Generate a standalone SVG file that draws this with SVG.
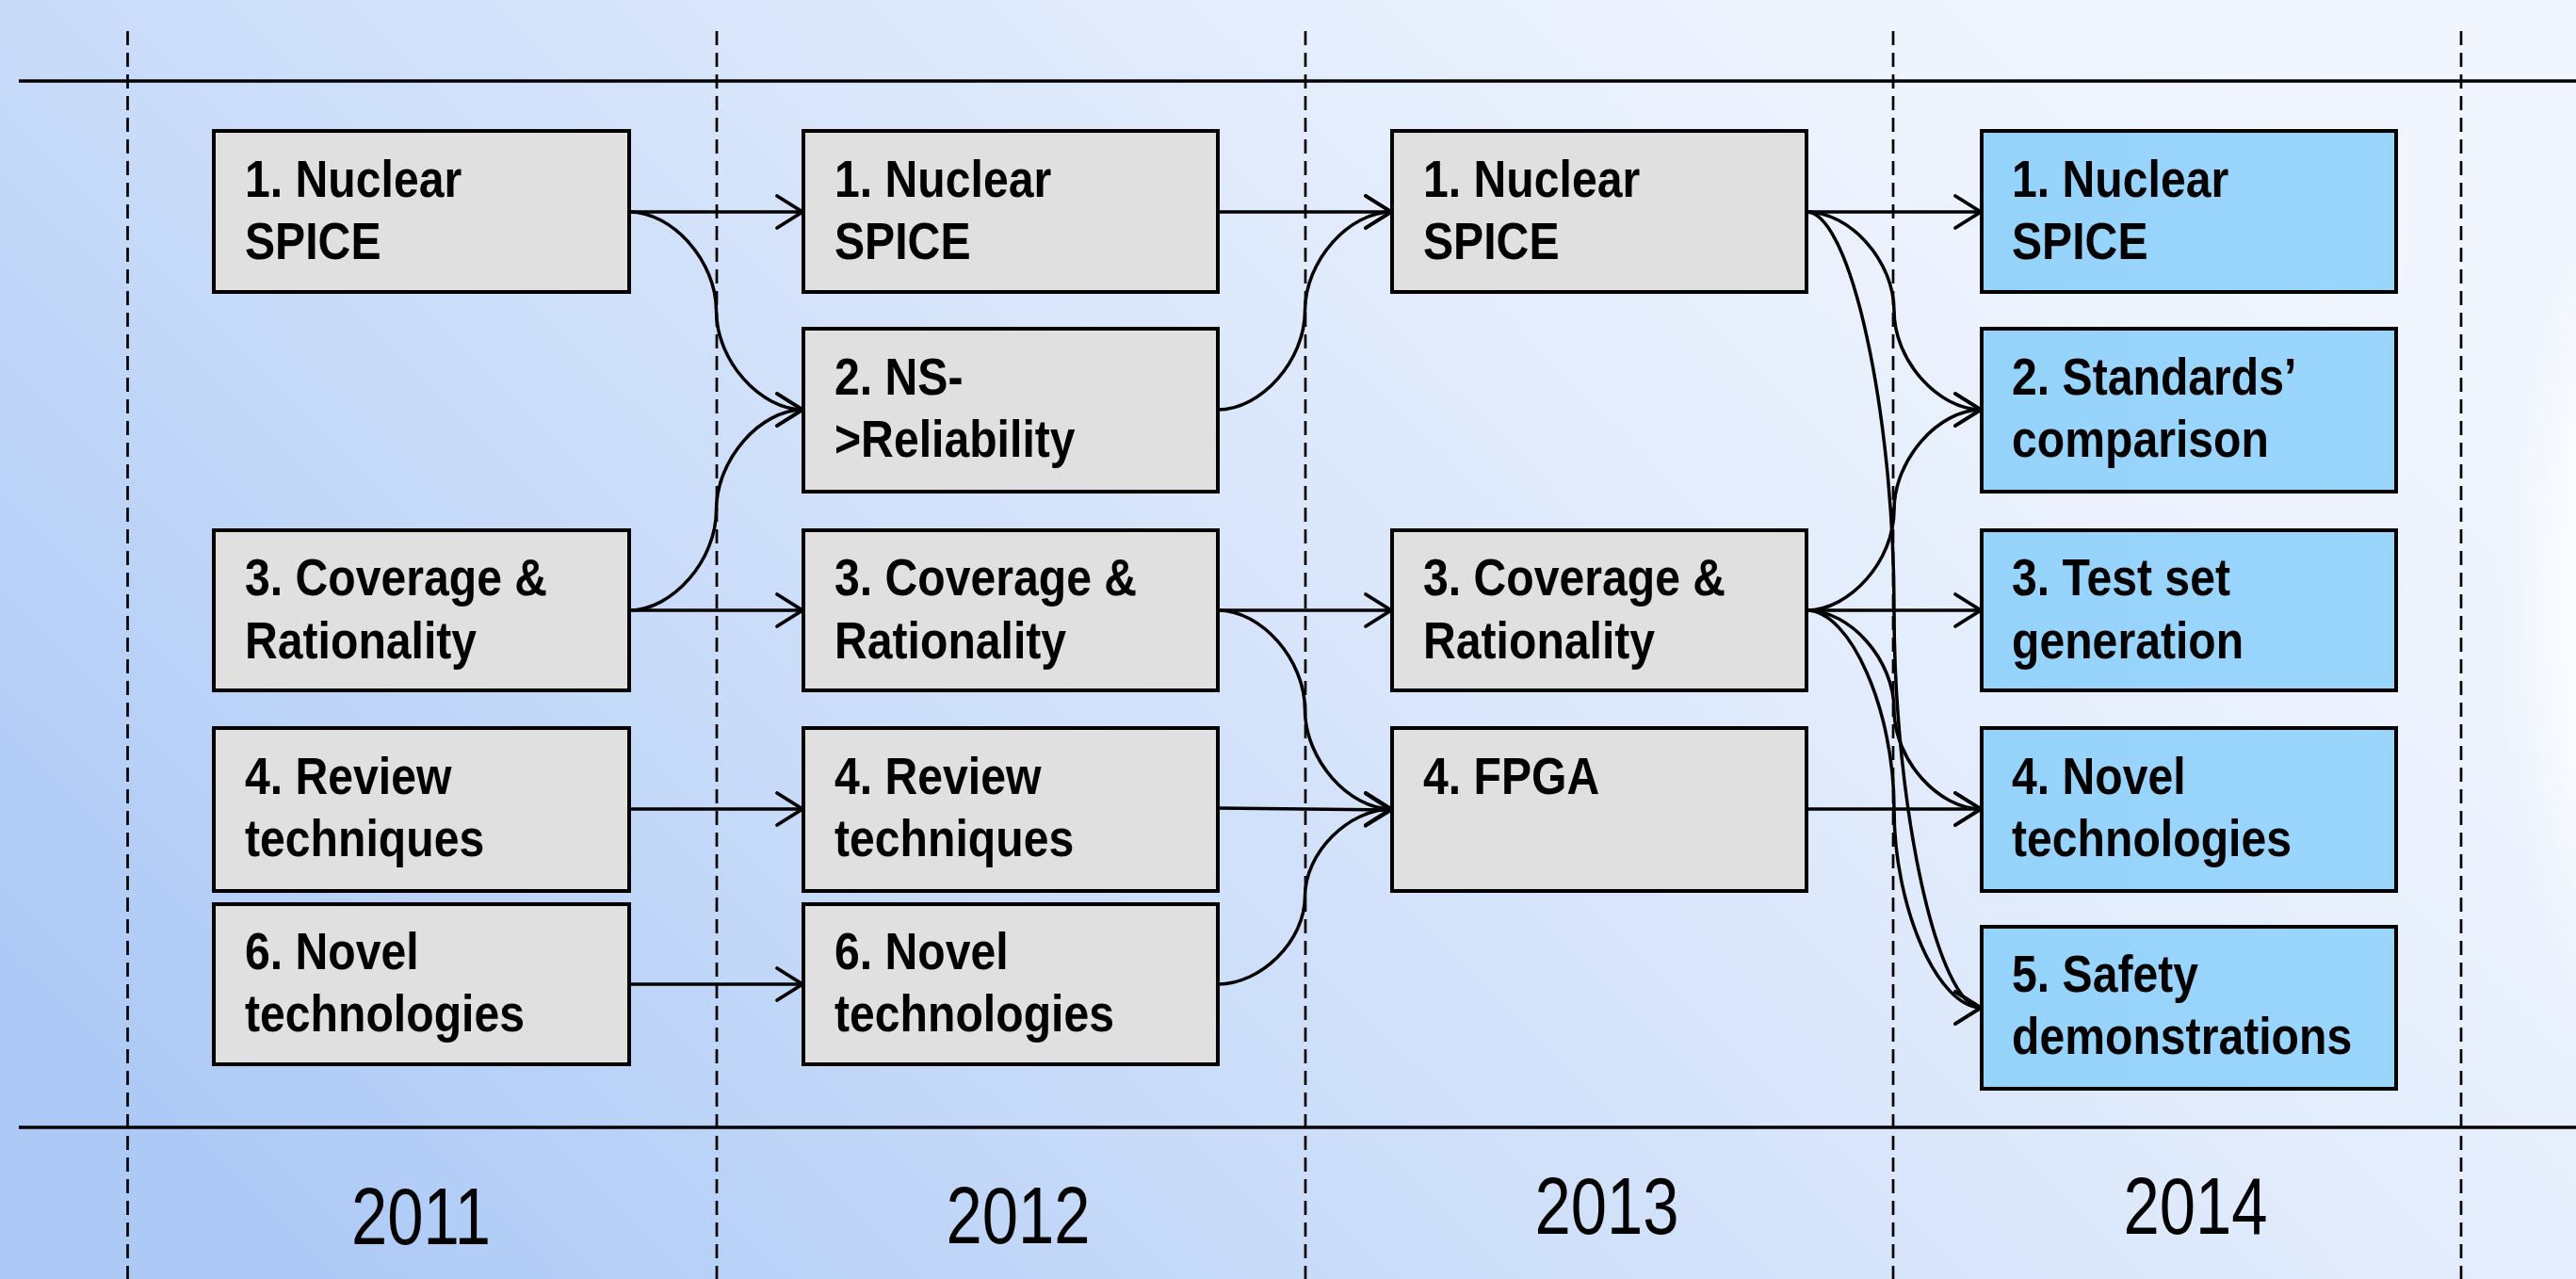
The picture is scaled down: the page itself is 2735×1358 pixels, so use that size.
<svg xmlns="http://www.w3.org/2000/svg" width="2735" height="1358" viewBox="0 0 2735 1358">
<defs>
<linearGradient id="bg" x1="0" y1="0.75" x2="1" y2="0.25">
<stop offset="0" stop-color="#ADCAF6"/>
<stop offset="0.3" stop-color="#C8DBF9"/>
<stop offset="0.55" stop-color="#DBE7FB"/>
<stop offset="0.8" stop-color="#EBF2FD"/>
<stop offset="1" stop-color="#F1F6FE"/>
</linearGradient>
<radialGradient id="glow" cx="0.5" cy="0.5" r="0.5">
<stop offset="0" stop-color="#FFFFFF" stop-opacity="0.9"/>
<stop offset="0.75" stop-color="#FFFFFF" stop-opacity="0.6"/>
<stop offset="1" stop-color="#FFFFFF" stop-opacity="0"/>
</radialGradient>
<linearGradient id="blue" x1="0" y1="0" x2="1" y2="0">
<stop offset="0" stop-color="#96D3FB"/>
<stop offset="1" stop-color="#9AD5FC"/>
</linearGradient>
<marker id="arr" markerUnits="userSpaceOnUse" markerWidth="40" markerHeight="40" viewBox="-34 -20 40 40" refX="0" refY="0" orient="auto" overflow="visible">
<path d="M-28,-17 L-1,0 L-28,17" fill="none" stroke="#000" stroke-width="3.8" stroke-linecap="round"/>
</marker>
<style>
.box{fill:#E0E0E0;stroke:#000;stroke-width:4}
.bbox{fill:url(#blue);stroke:#000;stroke-width:4}
.lbl{font-family:"Liberation Sans",Arial,sans-serif;font-weight:bold;font-size:56px;fill:#000}
.year{font-family:"Liberation Sans",Arial,sans-serif;font-size:86px;fill:#000;text-anchor:middle}
.rule{stroke:#000;stroke-width:3.5}
.dash{stroke:#000;stroke-width:2.7;stroke-dasharray:15 8}
.con{fill:none;stroke:#000;stroke-width:3.5;marker-end:url(#arr)}
</style>
</defs>
<rect x="0" y="0" width="2735" height="1358" fill="url(#bg)"/>
<ellipse cx="2920" cy="660" rx="270" ry="560" fill="url(#glow)"/>

<g id="grid">
<line class="rule" x1="20" y1="86" x2="2735" y2="86"/>
<line class="rule" x1="20" y1="1197" x2="2735" y2="1197"/>
<line class="dash" x1="135.5" y1="33" x2="135.5" y2="1358"/>
<line class="dash" x1="761" y1="33" x2="761" y2="1358"/>
<line class="dash" x1="1386" y1="33" x2="1386" y2="1358"/>
<line class="dash" x1="2010" y1="33" x2="2010" y2="1358"/>
<line class="dash" x1="2613" y1="33" x2="2613" y2="1358"/>
</g>

<g id="years">
<text class="year" transform="matrix(0.8 0 0 1 447 0)" x="0" y="1321">2011</text>
<text class="year" transform="matrix(0.8 0 0 1 1081 0)" x="0" y="1320">2012</text>
<text class="year" transform="matrix(0.8 0 0 1 1706 0)" x="0" y="1310">2013</text>
<text class="year" transform="matrix(0.8 0 0 1 2331 0)" x="0" y="1310">2014</text>
</g>

<g id="connectors">
<!-- 2011 -> 2012 -->
<path class="con" d="M668,225 L853,225"/>
<path class="con" d="M668,225 C714.25,225 760.5,277.5 760.5,330 C760.5,382.5 806.75,435 853,435"/>
<path class="con" d="M668,648 C714.25,648 760.5,594.75 760.5,541.5 C760.5,488.25 806.75,435 853,435"/>
<path class="con" d="M668,648 L853,648"/>
<path class="con" d="M668,859 L853,859"/>
<path class="con" d="M668,1045 L853,1045"/>
<!-- 2012 -> 2013 -->
<path class="con" d="M1293,225 L1478,225"/>
<path class="con" d="M1293,435 C1339.25,435 1385.5,382.5 1385.5,330 C1385.5,277.5 1431.75,225 1478,225"/>
<path class="con" d="M1293,648 L1478,648"/>
<path class="con" d="M1293,648 C1339.25,648 1385.5,700.75 1385.5,753.5 C1385.5,806.25 1431.75,859 1478,859"/>
<path class="con" d="M1293,858 L1478,860"/>
<path class="con" d="M1293,1045 C1339.25,1045 1385.5,998.5 1385.5,952 C1385.5,905.5 1431.75,859 1478,859"/>
<!-- 2013 -> 2014 -->
<path class="con" d="M1918,225 L2104,225"/>
<path class="con" d="M1918,225 C1964.5,225 2011,277.5 2011,330 C2011,382.5 2057.5,435 2104,435"/>
<path class="con" d="M1918,225 C1964.5,225 2011,436.25 2011,647.5 C2011,858.75 2057.5,1070 2104,1070"/>
<path class="con" d="M1918,648 C1964.5,648 2011,594.75 2011,541.5 C2011,488.25 2057.5,435 2104,435"/>
<path class="con" d="M1918,648 L2104,648"/>
<path class="con" d="M1918,648 C1964.5,648 2011,700.75 2011,753.5 C2011,806.25 2057.5,859 2104,859"/>
<path class="con" d="M1918,648 C1964.5,648 2011,753.5 2011,859 C2011,964.5 2057.5,1070 2104,1070"/>
<path class="con" d="M1918,859 L2104,859"/>
</g>

<!-- 2011 column -->
<g id="n2011_1"><rect class="box" x="227" y="139" width="441" height="171"/>
<text class="lbl" transform="matrix(0.86 0 0 1 260 0)"><tspan x="0" y="209">1. Nuclear</tspan><tspan x="0" y="275">SPICE</tspan></text></g>
<g id="n2011_3"><rect class="box" x="227" y="563" width="441" height="170"/>
<text class="lbl" transform="matrix(0.86 0 0 1 260 0)"><tspan x="0" y="632">3. Coverage &amp;</tspan><tspan x="0" y="699">Rationality</tspan></text></g>
<g id="n2011_4"><rect class="box" x="227" y="773" width="441" height="173"/>
<text class="lbl" transform="matrix(0.86 0 0 1 260 0)"><tspan x="0" y="843">4. Review</tspan><tspan x="0" y="909">techniques</tspan></text></g>
<g id="n2011_6"><rect class="box" x="227" y="960" width="441" height="170"/>
<text class="lbl" transform="matrix(0.86 0 0 1 260 0)"><tspan x="0" y="1029">6. Novel</tspan><tspan x="0" y="1095">technologies</tspan></text></g>

<!-- 2012 column -->
<g id="n2012_1"><rect class="box" x="853" y="139" width="440" height="171"/>
<text class="lbl" transform="matrix(0.86 0 0 1 886 0)"><tspan x="0" y="209">1. Nuclear</tspan><tspan x="0" y="275">SPICE</tspan></text></g>
<g id="n2012_2"><rect class="box" x="853" y="349" width="440" height="173"/>
<text class="lbl" transform="matrix(0.86 0 0 1 886 0)"><tspan x="0" y="419">2. NS-</tspan><tspan x="0" y="485">&gt;Reliability</tspan></text></g>
<g id="n2012_3"><rect class="box" x="853" y="563" width="440" height="170"/>
<text class="lbl" transform="matrix(0.86 0 0 1 886 0)"><tspan x="0" y="632">3. Coverage &amp;</tspan><tspan x="0" y="699">Rationality</tspan></text></g>
<g id="n2012_4"><rect class="box" x="853" y="773" width="440" height="173"/>
<text class="lbl" transform="matrix(0.86 0 0 1 886 0)"><tspan x="0" y="843">4. Review</tspan><tspan x="0" y="909">techniques</tspan></text></g>
<g id="n2012_6"><rect class="box" x="853" y="960" width="440" height="170"/>
<text class="lbl" transform="matrix(0.86 0 0 1 886 0)"><tspan x="0" y="1029">6. Novel</tspan><tspan x="0" y="1095">technologies</tspan></text></g>

<!-- 2013 column -->
<g id="n2013_1"><rect class="box" x="1478" y="139" width="440" height="171"/>
<text class="lbl" transform="matrix(0.86 0 0 1 1511 0)"><tspan x="0" y="209">1. Nuclear</tspan><tspan x="0" y="275">SPICE</tspan></text></g>
<g id="n2013_3"><rect class="box" x="1478" y="563" width="440" height="170"/>
<text class="lbl" transform="matrix(0.86 0 0 1 1511 0)"><tspan x="0" y="632">3. Coverage &amp;</tspan><tspan x="0" y="699">Rationality</tspan></text></g>
<g id="n2013_4"><rect class="box" x="1478" y="773" width="440" height="173"/>
<text class="lbl" transform="matrix(0.86 0 0 1 1511 0)"><tspan x="0" y="843">4. FPGA</tspan></text></g>

<!-- 2014 column -->
<g id="n2014_1"><rect class="bbox" x="2104" y="139" width="440" height="171"/>
<text class="lbl" transform="matrix(0.86 0 0 1 2136 0)"><tspan x="0" y="209">1. Nuclear</tspan><tspan x="0" y="275">SPICE</tspan></text></g>
<g id="n2014_2"><rect class="bbox" x="2104" y="349" width="440" height="173"/>
<text class="lbl" transform="matrix(0.86 0 0 1 2136 0)"><tspan x="0" y="419">2. Standards’</tspan><tspan x="0" y="485">comparison</tspan></text></g>
<g id="n2014_3"><rect class="bbox" x="2104" y="563" width="440" height="170"/>
<text class="lbl" transform="matrix(0.86 0 0 1 2136 0)"><tspan x="0" y="632">3. Test set</tspan><tspan x="0" y="699">generation</tspan></text></g>
<g id="n2014_4"><rect class="bbox" x="2104" y="773" width="440" height="173"/>
<text class="lbl" transform="matrix(0.86 0 0 1 2136 0)"><tspan x="0" y="843">4. Novel</tspan><tspan x="0" y="909">technologies</tspan></text></g>
<g id="n2014_5"><rect class="bbox" x="2104" y="984" width="440" height="172"/>
<text class="lbl" transform="matrix(0.86 0 0 1 2136 0)"><tspan x="0" y="1053">5. Safety</tspan><tspan x="0" y="1119">demonstrations</tspan></text></g>
</svg>
